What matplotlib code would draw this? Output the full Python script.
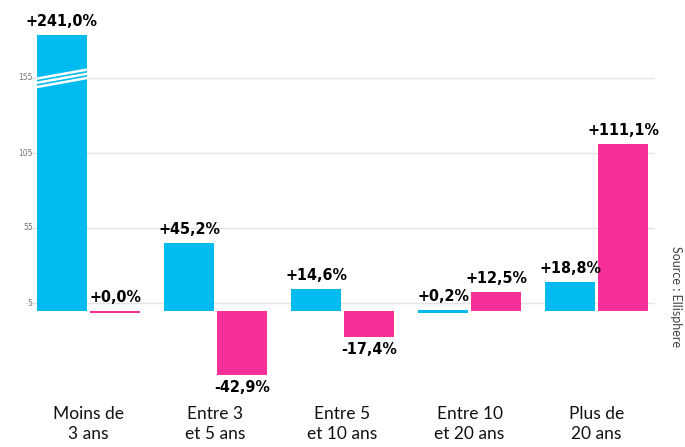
import numpy as np
import matplotlib.pyplot as plt

categories = ["Moins de\n3 ans", "Entre 3\net 5 ans", "Entre 5\net 10 ans", "Entre 10\net 20 ans", "Plus de\n20 ans"]
serie_bleue = [241.0, 45.2, 14.6, 0.2, 18.8]
serie_rose = [0.0, -42.9, -17.4, 12.5, 111.1]
ticks = [5, 55, 105, 155]
plafond = 184  # hauteur affichée de la barre coupée
coupure = 155

bleu = "#00bbf0"
rose = "#f72f9a"


def fmt(v):
    s = f"{v:+.1f}%".replace(".", ",")
    return s


fig = plt.figure(figsize=(6.85, 4.47), dpi=100)
ax = fig.add_axes([25 / 685, 0, 630 / 685, 1])
ax.set_xlim(-0.5, 4.46)
ax.set_ylim(-91, 207)

x = np.arange(len(categories))
w = 0.394
dx = 0.2087

hauteurs_bleues = [min(v, plafond) for v in serie_bleue]
ax.bar(x - dx, hauteurs_bleues, w, color=bleu, zorder=2)
ax.bar(x + dx, serie_rose, w, color=rose, zorder=2)
# valeurs quasi nulles : trait fin
ax.bar(x[0] + dx, 1.4, w, bottom=-1.4, color=rose, zorder=2)
ax.bar(x[3] - dx, 1.4, w, bottom=-1.4, color=bleu, zorder=2)

for t in ticks:
    ax.axhline(t, color="#e4e4e4", lw=1, zorder=1)

# marque de coupure
for i, v in enumerate(serie_bleue):
    if v > plafond:
        x0, x1 = x[i] - dx - w / 2, x[i] - dx + w / 2
        for k in range(3):
            y0 = coupure - 6 + k * 2.8
            ax.plot([x0, x1], [y0, y0 + 6], color="white", lw=1.8, zorder=3,
                    solid_capstyle="butt")

lab = dict(ha="center", fontsize=11.5, fontweight="bold", fontstretch="condensed",
           color="black", family="DejaVu Sans", zorder=4)
for i in range(len(categories)):
    for v, h, xc in ((serie_bleue[i], hauteurs_bleues[i], x[i] - dx),
                     (serie_rose[i], serie_rose[i], x[i] + dx)):
        if v >= 0:
            ax.text(xc, max(h, 0) + 4, fmt(v), va="bottom", **lab)
        else:
            ax.text(xc, h - 3.5, fmt(v), va="top", **lab)

for i, c in enumerate(categories):
    ax.text(x[i], -63.5, c, ha="center", va="top", fontsize=12.5, family="Lato",
            color="#111111", linespacing=1.3)

for t in ticks:
    ax.text(-0.44, t, str(t), ha="right", va="center", fontsize=5.5, color="#777777")

fig.text(676 / 685, 1 - 297 / 447, "Source : Ellisphere", rotation=-90,
         ha="center", va="center", fontsize=9, color="#444444", family="Lato")

for s in ax.spines.values():
    s.set_visible(False)
ax.set_xticks([])
ax.set_yticks([])
ax.patch.set_alpha(0)

fig.savefig("out.png", dpi=100)
